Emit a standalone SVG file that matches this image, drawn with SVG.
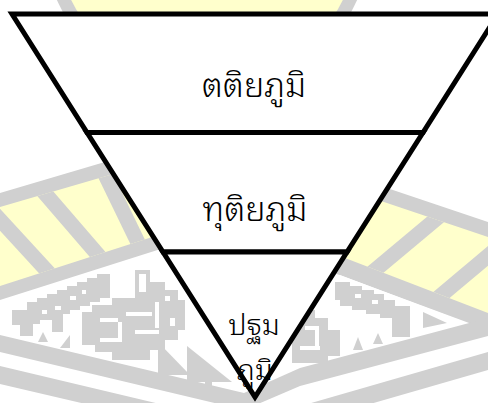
<svg xmlns="http://www.w3.org/2000/svg" width="488" height="403" viewBox="0 0 488 403">
<style>
.g{fill:#d0d0d0}
.y{fill:#ffffcc}
.w{fill:#ffffff}
.st{stroke:#d0d0d0;stroke-width:15;fill:none}
.layer{fill:#ffffff;stroke:#000000;stroke-width:5;stroke-linejoin:miter;stroke-miterlimit:10}
.t{font-family:"Noto Sans Thai Looped","Noto Sans Thai","Noto Sans","DejaVu Sans",sans-serif;font-weight:300;fill:#000000;text-anchor:middle}
</style>
<defs>
<clipPath id="cl"><polygon points="0,207 230,140 230,212 0,286"/></clipPath>
<clipPath id="cr"><polygon points="280,167 488,237 488,313 280,233"/></clipPath>
</defs>
<rect width="488" height="403" fill="#ffffff"/>
<g id="watermark">
<circle cx="207" cy="-66" r="164" class="g"/>
<circle cx="207" cy="-66" r="151" class="y"/>
<polygon class="g" points="0,193 230,125 230,227 0,300"/>
<polygon class="y" points="0,207 230,140 230,212 0,286"/>
<g clip-path="url(#cl)">
<line class="st" x1="-20" y1="198" x2="60" y2="285"/>
<line class="st" x1="30" y1="176" x2="105" y2="263"/>
<line class="st" x1="98" y1="160" x2="145" y2="257"/>
</g>
<polygon class="g" points="280,152 488,222 488,330 280,253"/>
<polygon class="y" points="280,167 488,237 488,313 280,233"/>
<g clip-path="url(#cr)">
<line class="st" x1="460" y1="199" x2="350" y2="291"/>
<line class="st" x1="520" y1="229" x2="420" y2="313"/>
</g>
<polygon class="w" points="340,275 467,323 300,368 300,290"/>
<polygon class="g" points="0,335 244,393 244,410 0,352"/>
<polygon class="g" points="0,366 244,424 244,441 0,384"/>
<polygon class="g" points="300,368 488,318 488,336 300,386"/>
<polygon class="g" points="280,412 488,352 488,370 280,430"/>
<polygon class="g" points="244,393 300,368 300,386 244,410"/>
<path class="g" d="M12,310 H27 V302 H37 V298 H47 V294 H57 V290 H67 V286 H77 V282 H87 V278 H97 V274 H110 V298 H100 V302 H90 V306 H80 V310 H70 V314 H63 V332 H52 V320 H40 V324 H33 V336 H20 V325 H12 Z"/>
<rect class="w" x="70" y="296" width="6" height="4"/>
<rect class="w" x="55" y="306" width="6" height="4"/>
<rect class="w" x="82" y="290" width="4" height="4"/>
<rect class="w" x="42" y="310" width="5" height="4"/>
<path class="g" d="M135,270 H150 V282 H165 V290 H178 V300 H185 V330 H178 V340 H165 V350 H150 V360 H112 V352 H95 V345 H82 V312 H92 V305 H112 V298 H135 Z"/>
<rect class="w" x="139" y="274" width="7" height="18"/>
<rect class="w" x="100" y="318" width="18" height="4"/>
<rect class="w" x="118" y="322" width="4" height="16"/>
<rect class="w" x="100" y="338" width="22" height="4"/>
<rect class="w" x="126" y="312" width="26" height="4"/>
<rect class="w" x="155" y="302" width="4" height="26"/>
<rect class="w" x="135" y="330" width="24" height="4"/>
<rect class="w" x="165" y="296" width="5" height="5"/>
<rect class="w" x="170" y="318" width="5" height="8"/>
<polygon class="g" points="43,332 48,342 38,342"/>
<polygon class="g" points="70,335 70,348 60,348"/>
<polygon class="g" points="158,342 190,375 158,375"/>
<polygon class="g" points="187,346 232,382 187,382"/>
<rect class="g" x="205" y="378" width="7" height="14"/>
<path class="g" d="M335,282 H350 V286 H362 V290 H374 V294 H384 V300 H395 V306 H410 V337 H392 V318 H380 V314 H366 V310 H352 V306 H340 V300 H335 Z"/>
<rect class="w" x="355" y="294" width="6" height="4"/>
<rect class="w" x="372" y="300" width="6" height="4"/>
<polygon class="g" points="358,337 363,350 353,350"/>
<polygon class="g" points="378,333 383,344 373,344"/>
<polygon class="g" points="423,312 447,323 423,328"/>
<path class="g" d="M292,310 H315 V318 H328 V330 H340 V356 H328 V363 H292 Z"/>
<rect class="w" x="305" y="326" width="14" height="4"/>
<rect class="w" x="315" y="330" width="4" height="16"/>
<rect class="w" x="300" y="346" width="20" height="4"/>
</g>
<g id="connectors"></g>
<g id="node-tertiary">
<polygon class="layer" points="12,14 498,14 423,132.5 87,132.5"/>
<text class="t" x="254" y="97" font-size="34">ตติยภูมิ</text>
</g>
<g id="node-secondary">
<polygon class="layer" points="87,132.5 423,132.5 347,252 163,252"/>
<text class="t" x="255" y="221" font-size="34">ทุติยภูมิ</text>
</g>
<g id="node-primary">
<polygon class="layer" points="163,252 347,252 255,397"/>
<text class="t" x="254" y="335" font-size="29">ปฐม</text>
<text class="t" x="255" y="380" font-size="29">ภูมิ</text>
</g>
</svg>
